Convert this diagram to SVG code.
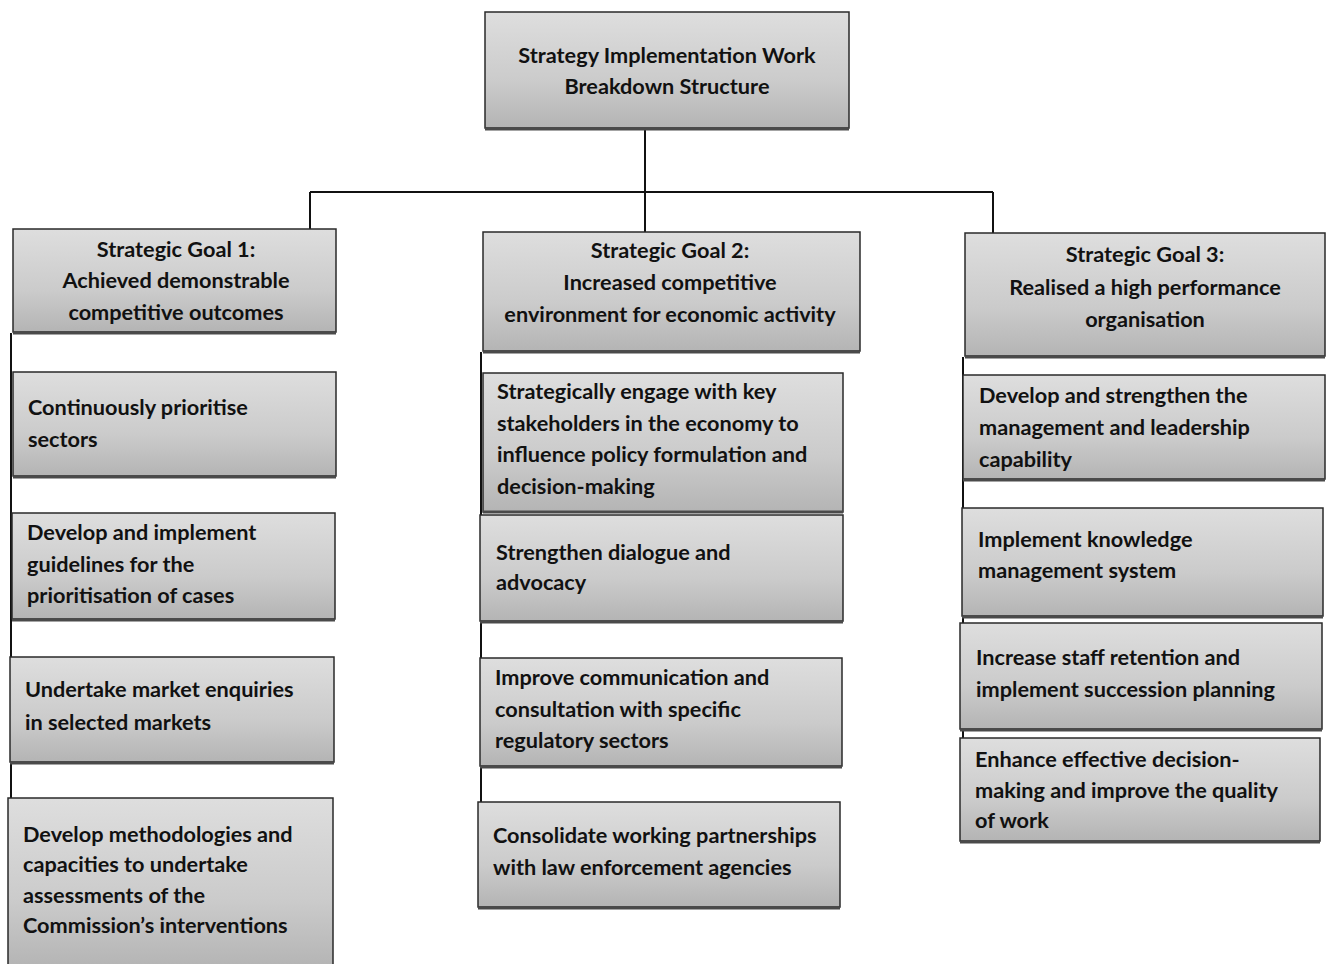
<svg xmlns="http://www.w3.org/2000/svg" width="1327" height="964" viewBox="0 0 1327 964">
<defs>
<linearGradient id="boxFill" x1="0" y1="0" x2="0" y2="1">
<stop offset="0" stop-color="#dedede"/>
<stop offset="0.6" stop-color="#cbcbcb"/>
<stop offset="1" stop-color="#b4b4b4"/>
</linearGradient>
<style>
.box{fill:url(#boxFill);stroke:#2a2a2a;stroke-width:1.5}
.shadow{stroke:#4a4a4a;stroke-width:3;fill:none}
.t{font-family:Lato,"Liberation Sans",sans-serif;font-weight:bold;font-size:21.7px;fill:#111}
.c{text-anchor:middle}
.line{stroke:#111;stroke-width:2;fill:none}
</style>
</defs>
<rect width="1327" height="964" fill="#ffffff"/>
<g id="connectors">
<path class="line" d="M645 130 V232 M310 192 H993 M310 192 V229 M993 192 V233"/>
<path class="line" d="M11 333 V800"/>
<path class="line" d="M481 352 V803"/>
<path class="line" d="M963 357 V739"/>
</g>
<g id="root">
<rect class="box" x="485" y="12" width="364" height="116"/>
<line class="shadow" x1="485" y1="129" x2="849" y2="129"/>
<text class="t c" x="667" y="63">Strategy Implementation Work</text>
<text class="t c" x="667" y="94">Breakdown Structure</text>
</g>
<g id="goal1">
<rect class="box" x="13" y="229" width="323" height="103"/>
<line class="shadow" x1="13" y1="333" x2="336" y2="333"/>
<text class="t c" x="176" y="257">Strategic Goal 1:</text>
<text class="t c" x="176" y="288">Achieved demonstrable</text>
<text class="t c" x="176" y="320">competitive outcomes</text>
</g>
<g id="g1a">
<rect class="box" x="13" y="372" width="323" height="104"/>
<line class="shadow" x1="13" y1="477" x2="336" y2="477"/>
<text class="t" x="28" y="415">Continuously prioritise</text>
<text class="t" x="28" y="447">sectors</text>
</g>
<g id="g1b">
<rect class="box" x="12" y="513" width="323" height="106"/>
<line class="shadow" x1="12" y1="620" x2="335" y2="620"/>
<text class="t" x="27" y="540">Develop and implement</text>
<text class="t" x="27" y="572">guidelines for the</text>
<text class="t" x="27" y="603">prioritisation of cases</text>
</g>
<g id="g1c">
<rect class="box" x="10" y="657" width="324" height="105"/>
<line class="shadow" x1="10" y1="763" x2="334" y2="763"/>
<text class="t" x="25" y="697">Undertake market enquiries</text>
<text class="t" x="25" y="730">in selected markets</text>
</g>
<g id="g1d">
<rect class="box" x="8" y="798" width="325" height="170"/>
<text class="t" x="23" y="842">Develop methodologies and</text>
<text class="t" x="23" y="872">capacities to undertake</text>
<text class="t" x="23" y="903">assessments of the</text>
<text class="t" x="23" y="933">Commission’s interventions</text>
</g>
<g id="goal2">
<rect class="box" x="483" y="232" width="377" height="119"/>
<line class="shadow" x1="483" y1="352" x2="860" y2="352"/>
<text class="t c" x="670" y="258">Strategic Goal 2:</text>
<text class="t c" x="670" y="290">Increased competitive</text>
<text class="t c" x="670" y="322">environment for economic activity</text>
</g>
<g id="g2a">
<rect class="box" x="483" y="373" width="360" height="139"/>
<line class="shadow" x1="483" y1="512" x2="843" y2="512"/>
<text class="t" x="497" y="399">Strategically engage with key</text>
<text class="t" x="497" y="431">stakeholders in the economy to</text>
<text class="t" x="497" y="462">influence policy formulation and</text>
<text class="t" x="497" y="494">decision-making</text>
</g>
<g id="g2b">
<rect class="box" x="480" y="515" width="363" height="106"/>
<line class="shadow" x1="480" y1="622" x2="843" y2="622"/>
<text class="t" x="496" y="560">Strengthen dialogue and</text>
<text class="t" x="496" y="590">advocacy</text>
</g>
<g id="g2c">
<rect class="box" x="480" y="658" width="362" height="108"/>
<line class="shadow" x1="480" y1="767" x2="842" y2="767"/>
<text class="t" x="495" y="685">Improve communication and</text>
<text class="t" x="495" y="717">consultation with specific</text>
<text class="t" x="495" y="748">regulatory sectors</text>
</g>
<g id="g2d">
<rect class="box" x="478" y="802" width="362" height="105"/>
<line class="shadow" x1="478" y1="908" x2="840" y2="908"/>
<text class="t" x="493" y="843">Consolidate working partnerships</text>
<text class="t" x="493" y="875">with law enforcement agencies</text>
</g>
<g id="goal3">
<rect class="box" x="965" y="233" width="360" height="123"/>
<line class="shadow" x1="965" y1="357" x2="1325" y2="357"/>
<text class="t c" x="1145" y="262">Strategic Goal 3:</text>
<text class="t c" x="1145" y="295">Realised a high performance</text>
<text class="t c" x="1145" y="327">organisation</text>
</g>
<g id="g3a">
<rect class="box" x="963" y="375" width="362" height="104"/>
<line class="shadow" x1="963" y1="480" x2="1325" y2="480"/>
<text class="t" x="979" y="403">Develop and strengthen the</text>
<text class="t" x="979" y="435">management and leadership</text>
<text class="t" x="979" y="467">capability</text>
</g>
<g id="g3b">
<rect class="box" x="962" y="508" width="361" height="108"/>
<line class="shadow" x1="962" y1="617" x2="1323" y2="617"/>
<text class="t" x="978" y="547">Implement knowledge</text>
<text class="t" x="978" y="578">management system</text>
</g>
<g id="g3c">
<rect class="box" x="960" y="623" width="362" height="106"/>
<line class="shadow" x1="960" y1="730" x2="1322" y2="730"/>
<text class="t" x="976" y="665">Increase staff retention and</text>
<text class="t" x="976" y="697">implement succession planning</text>
</g>
<g id="g3d">
<rect class="box" x="960" y="738" width="360" height="103"/>
<line class="shadow" x1="960" y1="842" x2="1320" y2="842"/>
<text class="t" x="975" y="767">Enhance effective decision-</text>
<text class="t" x="975" y="798">making and improve the quality</text>
<text class="t" x="975" y="828">of work</text>
</g>
</svg>
